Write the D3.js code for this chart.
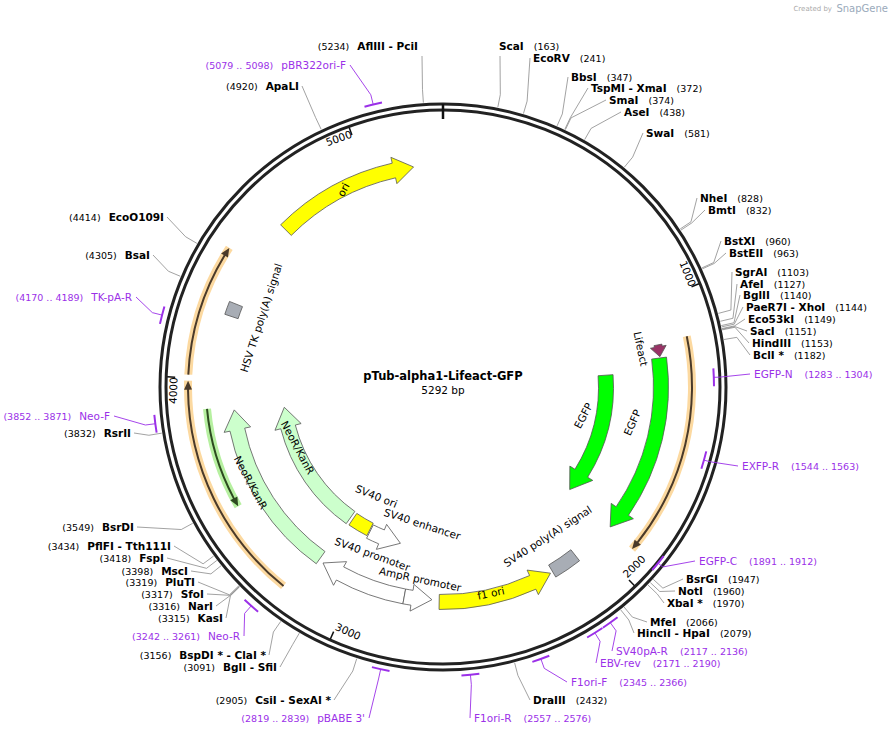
<!DOCTYPE html>
<html><head><meta charset="utf-8">
<script src="https://cdn.jsdelivr.net/npm/d3@7"></script>
<style>body{margin:0;background:#fff}svg{font-family:"DejaVu Sans",Verdana,sans-serif}</style>
</head><body><svg id="c" width="892" height="738"></svg>
<script>
const TOTAL = 5292;
const plasmidName = "pTub-alpha1-Lifeact-GFP";
const featNames  = ["ori","HSV TK poly(A) signal","NeoR/KanR","NeoR/KanR","SV40 ori","SV40 enhancer","SV40 promoter","AmpR promoter","f1 ori","SV40 poly(A) signal","EGFP","EGFP","Lifeact"];
const featStart  = [4630,4240,3170,3165,3045,2870,2800,2690,2205,2085,1262,1211,1160];
const featEnd    = [5180,4290,3877,3862,3150,3040,3150,2800,2661,2195,1896,1910,1206];
const featDir    = [1,0,1,1,0,-1,1,-1,-1,0,1,1,1];
const featColor  = ["#ffff00","#a8adb5","#ccffcc","#ccffcc","#ffff00","#ffffff","#ffffff","#ffffff","#ffff00","#a8adb5","#00ff00","#00ff00","#993366"];
const featTrack  = [222,223,210,160,160,162,213,213,215,214,163,218,219];
const orfStart = [3215,4010,1150,3525];
const orfEnd   = [3990,4455,1920,3891];
const orfDir   = [1,1,1,-1];
const orfTrack = [255,255,249,237];
const orfKind  = ["o","o","o","g"];
const siteNames = ["AflIII  - PciI","ScaI","EcoRV","BbsI","TspMI  - XmaI","SmaI","AseI","SwaI","NheI","BmtI","BstXI","BstEII","SgrAI","AfeI","BglII","PaeR7I  - XhoI","Eco53kI","SacI","HindIII","BclI *","BsrGI","NotI","XbaI *","MfeI","HincII  - HpaI","DraIII","CsiI  - SexAI *","BglI  - SfiI","BspDI *  - ClaI *","KasI","NarI","SfoI","PluTI","MscI","FspI","PflFI  - Tth111I","BsrDI","RsrII","BsaI","EcoO109I","ApaLI"];
const sitePos = [5234,163,241,347,372,374,438,581,828,832,960,963,1103,1127,1140,1144,1149,1151,1153,1182,1947,1960,1970,2066,2079,2432,2905,3091,3156,3315,3316,3317,3319,3398,3418,3434,3549,3832,4305,4414,4920];
const primerNames = ["pBR322ori-F","TK-pA-R","Neo-F","Neo-R","pBABE 3'","F1ori-R","F1ori-F","EBV-rev","SV40pA-R","EGFP-C","EXFP-R","EGFP-N"];
const primerRange = ["5079 .. 5098","4170 .. 4189","3852 .. 3871","3242 .. 3261","2819 .. 2839","2557 .. 2576","2345 .. 2366","2171 .. 2190","2117 .. 2136","1891 .. 1912","1544 .. 1563","1283 .. 1304"];
const primerPos = [5088,4180,3862,3252,2829,2566,2355,2180,2126,1901,1553,1293];
const tickVals = [1000,2000,3000,4000,5000];

const siteLayout = [[418,50,"t"],[499,50,"t"],[533,62,"r"],[571,81,"r"],[591,92,"r"],[609,104,"r"],[624,116,"r"],[646,137,"r"],[700,202,"r"],[708,214,"r"],[724,245,"r"],[729,257,"r"],[735,276,"r"],[740,288,"r"],[743,299,"r"],[746,311,"r"],[748,323,"r"],[750,335,"r"],[752,347,"r"],[753,359,"r"],[686,583,"r"],[678,595,"r"],[667,607,"r"],[650,626,"r"],[637,637,"r"],[533,704,"r"],[331,704,"l"],[277,671,"l"],[266,659,"l"],[223,622,"l"],[213,610,"l"],[204,598,"l"],[195,586,"l"],[188,575,"l"],[164,562,"l"],[171,550,"l"],[134,531,"l"],[131,437,"l"],[150,259,"l"],[164,221,"l"],[299,90,"l"]];
const primerLayout = [[346,69,"l"],[132,301,"l"],[110,420,"l"],[240,640,"l"],[365,722,"l"],[474,722,"r"],[571,686,"r"],[600,667,"r"],[616,655,"r"],[699,565,"r"],[742,470,"r"],[754,378,"r"]];
const primerR = [291,290,290,291,289,289,289,289,289,278,271,271];
const featLabelLayout = [[344,190,-62],[262,318,-72],[250,483,62],[297,448,62],[376,497,22],[422,525,18],[372,555,20],[420,580,12],[491,594,-12],[548,537,-33],[584,416,-62],[633,423,-66],[640,349,78]];

const svg = d3.select("#c");
const cx = 443, cy = 387;
const ang = d3.scaleLinear().domain([0, TOTAL]).range([0, 2*Math.PI]);
const P = (a, r) => [cx + r*Math.sin(a), cy - r*Math.cos(a)];
const PURPLE = "#9b30e8";

function arrowPath(s, e, r, w, dir, hw, hl) {
  let a0 = ang(s), a1 = ang(e);
  const ho = r + w/2, hi = r - w/2;
  const f = p => p.join(",");
  if (dir === 0) {
    return `M${f(P(a0,ho))}A${ho},${ho} 0 0 1 ${f(P(a1,ho))}L${f(P(a1,hi))}A${hi},${hi} 0 0 0 ${f(P(a0,hi))}Z`;
  }
  const dh = hl / r;
  if (dir > 0) {
    const ah = a1 - dh;
    const lg = (ah - a0) > Math.PI ? 1 : 0;
    return `M${f(P(a0,ho))}A${ho},${ho} 0 ${lg} 1 ${f(P(ah,ho))}L${f(P(ah,ho+hw))}L${f(P(a1,r))}L${f(P(ah,hi-hw))}L${f(P(ah,hi))}A${hi},${hi} 0 ${lg} 0 ${f(P(a0,hi))}Z`;
  } else {
    const ah = a0 + dh;
    const lg = (a1 - ah) > Math.PI ? 1 : 0;
    return `M${f(P(a1,ho))}A${ho},${ho} 0 ${lg} 0 ${f(P(ah,ho))}L${f(P(ah,ho+hw))}L${f(P(a0,r))}L${f(P(ah,hi-hw))}L${f(P(ah,hi))}A${hi},${hi} 0 ${lg} 1 ${f(P(a1,hi))}Z`;
  }
}
const arcG = d3.arc();

[283,277].forEach(r => svg.append("circle").attr("cx",cx).attr("cy",cy).attr("r",r).attr("fill","none").attr("stroke","#222").attr("stroke-width",3));

siteNames.forEach((n,i) => {
  const [x,y,side] = siteLayout[i];
  const a = ang(sitePos[i]);
  const p0 = P(a,285), p1 = P(a,298);
  let end = side === "r" ? [x-3,y-4] : side === "l" ? [x+3,y-4] : [x+ (i===0?4:1), y+6];
  svg.append("polyline").attr("points",[p0,p1,end].map(p=>p.join(",")).join(" "))
    .attr("fill","none").attr("stroke","#8a8a8a").attr("stroke-width",0.8);
  const t = svg.append("text").attr("x",x).attr("y",y).attr("font-size",10.5).attr("fill","#000");
  if (side === "l" || (side === "t" && i === 0)) {
    t.attr("text-anchor","end");
    t.append("tspan").attr("font-size",9.5).text(`(${sitePos[i]})`);
    t.append("tspan").attr("dx",8).attr("font-weight","bold").text(n);
  } else {
    t.append("tspan").attr("font-weight","bold").text(n);
    t.append("tspan").attr("dx",10).attr("font-size",9.5).text(`(${sitePos[i]})`);
  }
});

primerNames.forEach((n,i) => {
  const [x,y,side] = primerLayout[i];
  const a = ang(primerPos[i]), r = primerR[i];
  const da = 9/ r;
  svg.append("path").attr("transform",`translate(${cx},${cy})`)
    .attr("d", arcG({innerRadius:r-1, outerRadius:r+1, startAngle:a-da, endAngle:a+da}))
    .attr("fill",PURPLE);
  const end = side === "r" ? [x-4,y-4] : [x+4,y-4];
  const p0 = P(a, r), p1 = P(a, r + (r>283?10:6));
  svg.append("polyline").attr("points",[p0,p1,end].map(p=>p.join(",")).join(" "))
    .attr("fill","none").attr("stroke",PURPLE).attr("stroke-width",0.9);
  const t = svg.append("text").attr("x",x).attr("y",y).attr("font-size",10.5).attr("fill",PURPLE);
  if (side === "l") {
    t.attr("text-anchor","end");
    t.append("tspan").attr("font-size",9.5).text(`(${primerRange[i]})`);
    t.append("tspan").attr("dx",8).text(n);
  } else {
    t.append("tspan").text(n);
    t.append("tspan").attr("dx",12).attr("font-size",9.5).text(`(${primerRange[i]})`);
  }
});

svg.append("line").attr("x1",cx).attr("x2",cx).attr("y1",cy-283).attr("y2",cy-268).attr("stroke","#111").attr("stroke-width",2.5);
tickVals.forEach(v => {
  const a = ang(v);
  const [x1,y1] = P(a,276), [x2,y2] = P(a,268);
  svg.append("line").attr("x1",x1).attr("y1",y1).attr("x2",x2).attr("y2",y2).attr("stroke","#111").attr("stroke-width",1.5);
  const deg = a*180/Math.PI;
  const flip = deg > 90 && deg < 270;
  const [tx,ty] = P(a - 13/265, flip ? 266 : 274);
  const rot = flip ? deg - 180 : deg;
  svg.append("text").attr("transform",`translate(${tx},${ty}) rotate(${rot})`)
    .attr("text-anchor","middle").attr("dominant-baseline", flip ? "auto" : "hanging")
    .attr("font-size",10.5).text(v);
});

orfStart.forEach((s,i) => {
  const col = orfKind[i] === "o" ? ["#fcd9a0","#4a3a2a"] : ["#b6f0a0","#2d4a20"];
  const a0 = ang(s), a1 = ang(orfEnd[i]);
  svg.append("path").attr("transform",`translate(${cx},${cy})`)
    .attr("d", arcG({innerRadius:orfTrack[i]-4, outerRadius:orfTrack[i]+4, startAngle:a0, endAngle:a1}))
    .attr("fill",col[0]);
  svg.append("path").attr("d", arrowPath(s, orfEnd[i], orfTrack[i], 2, orfDir[i], 3, 9))
    .attr("fill",col[1]);
});

featNames.forEach((n,i) => {
  const isBox = featDir[i] === 0;
  const w = n === "Lifeact" ? 8 : (isBox ? 14 : 15);
  const hw = n === "Lifeact" ? 4 : 6;
  const hl = n === "Lifeact" ? 10 : 20;
  svg.append("path").attr("d", arrowPath(featStart[i], featEnd[i], featTrack[i], w, featDir[i], hw, hl))
    .attr("fill",featColor[i]).attr("stroke","#555").attr("stroke-width",0.8);
  const [x,y,r] = featLabelLayout[i];
  svg.append("text").attr("transform",`translate(${x},${y}) rotate(${r})`)
    .attr("text-anchor","middle").attr("dominant-baseline","middle")
    .attr("font-size",10.5).attr("fill","#000").text(n);
});

svg.append("text").attr("x",cx).attr("y",cy-7).attr("text-anchor","middle").attr("font-size",11.5).attr("font-weight","bold").text(plasmidName);
svg.append("text").attr("x",cx).attr("y",cy+7).attr("text-anchor","middle").attr("font-size",10.5).text(TOTAL + " bp");
svg.append("text").attr("x",832).attr("y",11).attr("text-anchor","end").attr("font-size",7).attr("fill","#aaa").text("Created by");
svg.append("text").attr("x",888).attr("y",12).attr("text-anchor","end").attr("font-size",10).attr("fill","#9aaabb").text("SnapGene");
</script></body></html>
